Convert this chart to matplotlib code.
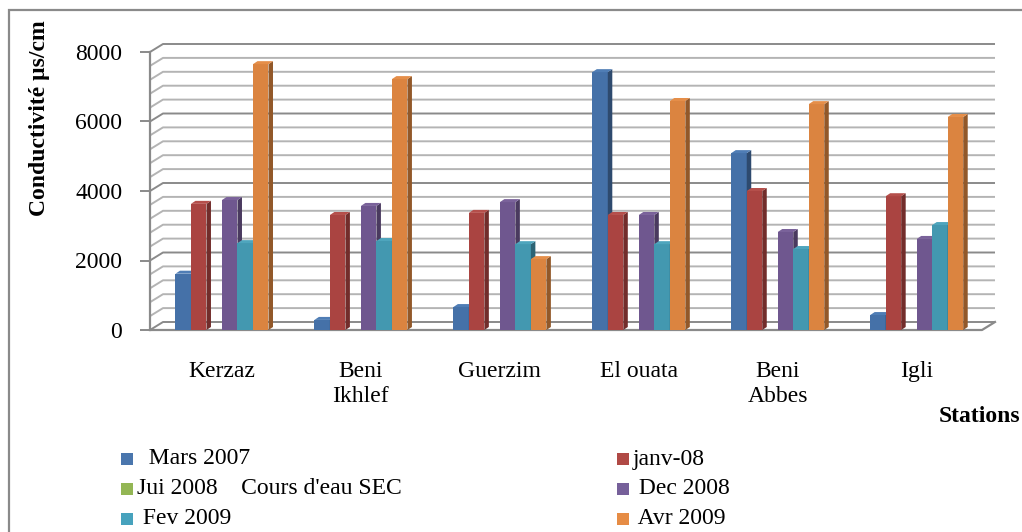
import matplotlib.pyplot as plt
from matplotlib.patches import Polygon, Rectangle
import numpy as np

stations = ["Kerzaz", "Beni\nIkhlef", "Guerzim", "El ouata", "Beni\nAbbes", "Igli"]
series = ["  Mars 2007", "janv-08", "Jui 2008    Cours d'eau SEC", " Dec 2008", " Fev 2009", " Avr 2009"]
mars07 = [1620, 290, 660, 7420, 5090, 430]
janv08 = [3630, 3310, 3370, 3310, 4000, 3850]
jui08 = [0, 0, 0, 0, 0, 0]          # cours d'eau sec
dec08 = [3740, 3570, 3680, 3310, 2820, 2620]
fev09 = [2500, 2560, 2470, 2470, 2330, 3020]
avr09 = [7650, 7220, 2040, 6590, 6500, 6130]
values = [mars07, janv08, jui08, dec08, fev09, avr09]

face = ["#4571a8", "#aa4441", "#8aac4f", "#6f578f", "#4398b0", "#db8440"]
top = ["#4f7db5", "#b54f4b", "#95b85a", "#7a629a", "#4ea5bd", "#e58e49"]
side = ["#2e4a6e", "#722d2b", "#5c7434", "#4a3a5f", "#2c6475", "#925829"]
legcol = ["#4a76ad", "#b04945", "#93b654", "#76609a", "#47a2bd", "#e68c45"]

plt.rcParams['font.family'] = ['Liberation Serif', 'DejaVu Serif']
fs = 17

W, H = 1022, 532
fig = plt.figure(figsize=(W / 100, H / 100), dpi=100)
ax = fig.add_axes([150 / W, (H - 330) / H, (982 - 150) / W, (330 - 52) / H])
x = np.arange(len(stations))
ax.set_xlim(-0.518, 5.47)
ax.set_ylim(0, 8000)
for s in ax.spines.values():
    s.set_visible(False)

# pixel -> data conversions for the fake 3D depth
ppx = (982 - 150) / (5.47 + 0.518)
ppy = (330 - 52) / 8000
wdx, wdy = 13 / ppx, 8 / ppy      # wall depth
bdx, bdy = 4.5 / ppx, 3 / ppy     # bar depth
x0, x1 = ax.get_xlim()

# walls and gridlines
for v in range(0, 8001, 400):
    c = "#8a8a8a" if v % 2000 == 0 else "#b4b4b4"
    ax.plot([x0, x0 + wdx, x1 + wdx], [v, v + wdy, v + wdy], color=c, lw=1.4,
            clip_on=False, zorder=1, solid_capstyle='butt')
ax.plot([x0, x1, x1 + wdx], [0, 0, wdy], color="#8a8a8a", lw=1.6, clip_on=False, zorder=1)
ax.plot([x0, x0], [0, 8000], color="#8a8a8a", lw=1.6, clip_on=False, zorder=1)

# bars
w = 0.1116
for i, vals in enumerate(values):
    pos = x + (i - 2.5) * w
    ax.bar(pos, vals, width=w, color=face[i], zorder=3, linewidth=0)
    for p, v in zip(pos, vals):
        if v <= 0:
            continue
        l, r = p - w / 2, p + w / 2
        ax.add_patch(Polygon([(r, 0), (r, v), (r + bdx, v + bdy), (r + bdx, bdy)],
                             closed=True, fc=side[i], ec='none', zorder=3))
        ax.add_patch(Polygon([(l, v), (r, v), (r + bdx, v + bdy), (l + bdx, v + bdy)],
                             closed=True, fc=top[i], ec='none', zorder=3))

ax.set_yticks(range(0, 8001, 2000))
ax.set_yticklabels([str(v) for v in range(0, 8001, 2000)], fontsize=fs)
ax.tick_params(axis='y', length=7, width=1.4, color="#8a8a8a", pad=13)
ax.set_xticks(x)
ax.set_xticklabels(stations, fontsize=fs, linespacing=1.25)
ax.tick_params(axis='x', length=0, pad=22)

fig.text(40 / W, 1 - 118 / H, "Conductivité µs/cm", rotation=90, ha='center', va='center',
         fontsize=fs, fontweight='bold')
fig.text(1020 / W, 1 - 417 / H, "Stations", ha='right', va='center', fontsize=fs, fontweight='bold')

# legend
for i, lab in enumerate(series):
    row, col = i // 2, i % 2
    mx = 121 if col == 0 else 617
    my = 459 + row * 30
    fig.add_artist(Rectangle((mx / W, 1 - (my + 6) / H), 12 / W, 12 / H,
                             transform=fig.transFigure, fc=legcol[i], ec='none'))
    fig.text((mx + 16) / W, 1 - my / H, lab, ha='left', va='center', fontsize=fs)

# chart border
fig.add_artist(Rectangle((9 / W, -0.1), 1.2, 1.1 - 10 / H, transform=fig.transFigure,
                         fill=False, ec="#8a8a8a", lw=1.6))

fig.savefig("out.png", dpi=100)
